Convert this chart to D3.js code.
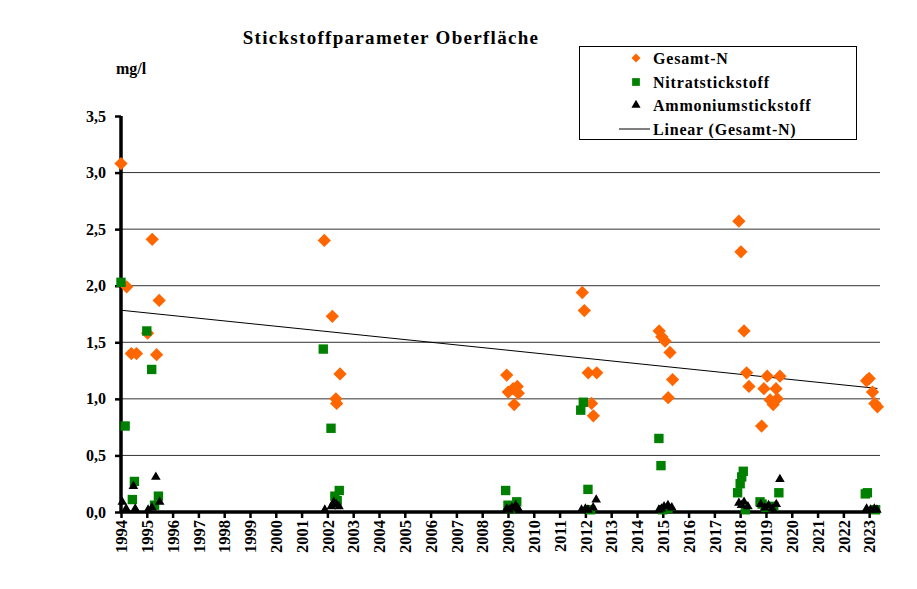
<!DOCTYPE html>
<html>
<head>
  <meta charset="UTF-8">
  <title>Stickstoffparameter Oberfläche</title>
  <script src="https://d3js.org/d3.v7.min.js"></script>
  <style>
    body { margin: 0; background: #fff; }
    text { font-family: "Liberation Serif", "Times New Roman", serif; }
  </style>
</head>
<body>
  <svg></svg>
</body>
<script>
  // Gesamt-N [Jahr, mg/l]
  const gesamtN = [
    [1994.00, 3.08], [1994.22, 1.99], [1994.40, 1.40], [1994.60, 1.40],
    [1995.03, 1.58], [1995.21, 2.41], [1995.38, 1.39], [1995.48, 1.87],
    [2001.88, 2.40], [2002.19, 1.73], [2002.49, 1.22], [2002.33, 1.00], [2002.36, 0.96],
    [2008.95, 1.21], [2009.01, 1.06], [2009.20, 1.09], [2009.36, 1.11], [2009.40, 1.05], [2009.24, 0.95],
    [2011.88, 1.94], [2011.96, 1.78], [2012.11, 1.23], [2012.44, 1.23], [2012.24, 0.96], [2012.31, 0.85],
    [2014.86, 1.60], [2014.96, 1.55], [2015.09, 1.51], [2015.28, 1.41], [2015.38, 1.17], [2015.21, 1.01],
    [2017.95, 2.57], [2018.03, 2.30], [2018.15, 1.60], [2018.25, 1.23], [2018.34, 1.11], [2018.83, 0.76],
    [2019.05, 1.20], [2018.92, 1.09], [2019.54, 1.20], [2019.39, 1.09], [2019.16, 0.99], [2019.28, 0.95], [2019.44, 1.00],
    [2022.90, 1.16], [2023.00, 1.18], [2023.13, 1.06], [2023.22, 0.96], [2023.32, 0.93]
  ];

  // Nitratstickstoff
  const nitrat = [
    [1994.00, 2.03], [1994.16, 0.76], [1994.52, 0.27], [1994.44, 0.11],
    [1995.00, 1.60], [1995.19, 1.26], [1995.45, 0.14], [1995.30, 0.06],
    [2001.84, 1.44], [2002.14, 0.74], [2002.46, 0.19], [2002.29, 0.14], [2002.38, 0.10],
    [2008.91, 0.19], [2009.00, 0.06], [2009.10, 0.03], [2009.34, 0.09],
    [2011.82, 0.90], [2011.92, 0.97], [2012.10, 0.20], [2012.20, 0.02],
    [2014.85, 0.65], [2014.93, 0.41], [2015.00, 0.02], [2015.20, 0.03],
    [2017.90, 0.17], [2018.00, 0.25], [2018.06, 0.31], [2018.12, 0.36], [2018.20, 0.02],
    [2018.77, 0.09], [2018.85, 0.07], [2019.00, 0.04], [2019.30, 0.05], [2019.50, 0.17],
    [2022.85, 0.16], [2022.93, 0.17], [2023.25, 0.02]
  ];

  // Ammoniumstickstoff
  const ammonium = [
    [1994.05, 0.08], [1994.20, 0.02], [1994.48, 0.22], [1994.55, 0.02],
    [1995.05, 0.01], [1995.20, 0.03], [1995.35, 0.30], [1995.50, 0.08],
    [2001.90, 0.01], [2002.15, 0.04], [2002.25, 0.08], [2002.35, 0.06], [2002.45, 0.04],
    [2008.95, 0.02], [2009.05, 0.01], [2009.15, 0.03], [2009.30, 0.05], [2009.40, 0.02],
    [2011.85, 0.01], [2012.00, 0.02], [2012.10, 0.01], [2012.30, 0.03], [2012.42, 0.10],
    [2014.85, 0.01], [2014.95, 0.02], [2015.05, 0.04], [2015.20, 0.05], [2015.35, 0.03],
    [2017.95, 0.07], [2018.05, 0.05], [2018.15, 0.08], [2018.30, 0.04], [2018.80, 0.06],
    [2018.95, 0.03], [2019.10, 0.05], [2019.25, 0.02], [2019.40, 0.06], [2019.54, 0.28],
    [2022.90, 0.02], [2023.05, 0.01], [2023.20, 0.02], [2023.30, 0.01]
  ];

  const years = d3.range(1994, 2024);
  const yTicks = [0, 0.5, 1, 1.5, 2, 2.5, 3, 3.5];
  const legendLabels = ["Gesamt-N", "Nitratstickstoff", "Ammoniumstickstoff", "Linear (Gesamt-N)"];

  let width = 917,
    height = 589;

  let svg = d3.select("svg")
    .attr("width", width)
    .attr("height", height);

  let x = d3.scaleLinear().domain([1994, 2023.42]).range([121, 880]);
  let y = d3.scaleLinear().domain([0, 3.5]).range([512, 116]);

  // title + unit
  svg.append("text")
    .attr("x", 391).attr("y", 44)
    .attr("text-anchor", "middle")
    .style("font-size", "19px").style("font-weight", "bold")
    .style("letter-spacing", "1.3px")
    .text("Stickstoffparameter Oberfläche");

  svg.append("text")
    .attr("x", 116).attr("y", 74)
    .style("font-size", "16px").style("font-weight", "bold")
    .text("mg/l");

  // gridlines
  svg.append("g")
    .selectAll("line")
    .data(yTicks.filter(d => d > 0 && d < 3.5))
    .enter()
    .append("line")
    .attr("x1", x(1994)).attr("x2", 880)
    .attr("y1", d => y(d)).attr("y2", d => y(d))
    .attr("stroke", "#333").attr("stroke-width", 1);

  // y axis
  let yAxis = svg.append("g")
    .attr("transform", "translate(" + x(1994) + ",0)")
    .call(d3.axisLeft(y).tickValues(yTicks).tickSize(6).tickPadding(9)
      .tickFormat(d => d3.format(".1f")(d).replace(".", ",")));
  yAxis.select(".domain").attr("stroke-width", 3.5).attr("d", "M0," + y(3.5) + "V" + y(0));
  yAxis.selectAll(".tick line").attr("stroke-width", 2.5);
  yAxis.selectAll("text")
    .style("font-family", "'Liberation Serif', serif")
    .style("font-size", "16px").style("font-weight", "bold")
    .attr("fill", "#000");

  // x axis
  let xAxis = svg.append("g")
    .attr("transform", "translate(0," + y(0) + ")")
    .call(d3.axisBottom(x).tickValues(years).tickSize(6).tickFormat(d3.format("d")));
  xAxis.select(".domain").attr("stroke-width", 3.5).attr("d", "M" + x(1994) + ",0H880");
  xAxis.selectAll(".tick line").attr("stroke-width", 2.5);
  xAxis.selectAll("text")
    .style("font-family", "'Liberation Serif', serif")
    .style("font-size", "16.5px").style("font-weight", "bold")
    .attr("fill", "#000")
    .attr("transform", "rotate(-90)")
    .attr("text-anchor", "end")
    .attr("x", -8).attr("y", 0).attr("dy", "0.35em");

  // trend line (least squares on Gesamt-N)
  let mx = d3.mean(gesamtN, d => d[0]), my = d3.mean(gesamtN, d => d[1]);
  let sxy = d3.sum(gesamtN, d => (d[0] - mx) * (d[1] - my));
  let sxx = d3.sum(gesamtN, d => (d[0] - mx) * (d[0] - mx));
  let slope = sxy / sxx, icpt = my - slope * mx;
  let xExt = d3.extent(gesamtN, d => d[0]);
  svg.append("line")
    .attr("x1", x(xExt[0])).attr("y1", y(icpt + slope * xExt[0]))
    .attr("x2", x(xExt[1])).attr("y2", y(icpt + slope * xExt[1]))
    .attr("stroke", "#000").attr("stroke-width", 1);

  let diamond = d3.symbol(d3.symbolSquare, 88)();
  let square = d3.symbol(d3.symbolSquare, 88)();
  let tri = d3.symbol(d3.symbolTriangle, 40)();

  svg.append("g").selectAll("path")
    .data(gesamtN).enter().append("path")
    .attr("d", diamond)
    .attr("transform", d => "translate(" + x(d[0]) + "," + y(d[1]) + ") rotate(45)")
    .attr("fill", "#ff6600");

  svg.append("g").selectAll("path")
    .data(nitrat).enter().append("path")
    .attr("d", square)
    .attr("transform", d => "translate(" + x(d[0]) + "," + y(d[1]) + ")")
    .attr("fill", "#008000");

  svg.append("g").selectAll("path")
    .data(ammonium).enter().append("path")
    .attr("d", tri)
    .attr("transform", d => "translate(" + x(d[0]) + "," + (y(d[1]) - 1) + ")")
    .attr("fill", "#000");

  // legend
  let legend = svg.append("g");
  legend.append("rect")
    .attr("x", 579.5).attr("y", 46.5).attr("width", 277).attr("height", 93)
    .attr("fill", "#fff").attr("stroke", "#000").attr("stroke-width", 1);

  let rows = [58, 82, 105, 129];
  legend.append("path").attr("d", d3.symbol(d3.symbolSquare, 40)())
    .attr("transform", "translate(636," + rows[0] + ") rotate(45)").attr("fill", "#ff6600");
  legend.append("path").attr("d", d3.symbol(d3.symbolSquare, 60)())
    .attr("transform", "translate(636," + rows[1] + ")").attr("fill", "#008000");
  legend.append("path").attr("d", d3.symbol(d3.symbolTriangle, 36)())
    .attr("transform", "translate(636," + rows[2] + ")").attr("fill", "#000");
  legend.append("line")
    .attr("x1", 619).attr("x2", 650).attr("y1", rows[3]).attr("y2", rows[3])
    .attr("stroke", "#000").attr("stroke-width", 1);

  legend.selectAll("text")
    .data(legendLabels).enter().append("text")
    .attr("x", 653).attr("y", (d, i) => rows[i] + 5.5)
    .style("font-size", "16px").style("font-weight", "bold")
    .style("letter-spacing", "0.8px")
    .text(d => d);
</script>
</html>
